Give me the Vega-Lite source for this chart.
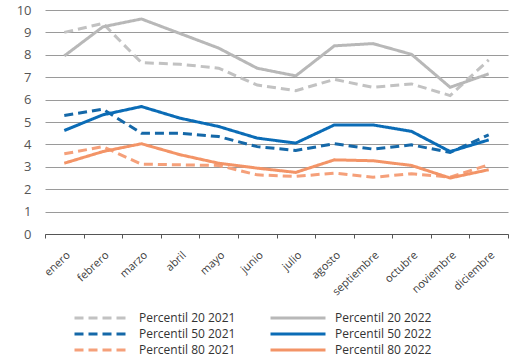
{
  "$schema": "https://vega.github.io/schema/vega-lite/v6.json",
  "width": 463,
  "height": 224,
  "autosize": {"type": "none"},
  "padding": {"left": 45, "top": 10, "right": 5, "bottom": 120},
  "background": "white",
  "config": {
    "font": "Open Sans",
    "view": {"stroke": null}
  },
  "data": {
    "values": [
      {"mes": "enero", "serie": "Percentil 20 2021", "valor": 9.0},
      {"mes": "febrero", "serie": "Percentil 20 2021", "valor": 9.4},
      {"mes": "marzo", "serie": "Percentil 20 2021", "valor": 7.65},
      {"mes": "abril", "serie": "Percentil 20 2021", "valor": 7.58},
      {"mes": "mayo", "serie": "Percentil 20 2021", "valor": 7.4},
      {"mes": "junio", "serie": "Percentil 20 2021", "valor": 6.65},
      {"mes": "julio", "serie": "Percentil 20 2021", "valor": 6.4},
      {"mes": "agosto", "serie": "Percentil 20 2021", "valor": 6.9},
      {"mes": "septiembre", "serie": "Percentil 20 2021", "valor": 6.55},
      {"mes": "octubre", "serie": "Percentil 20 2021", "valor": 6.7},
      {"mes": "noviembre", "serie": "Percentil 20 2021", "valor": 6.18},
      {"mes": "diciembre", "serie": "Percentil 20 2021", "valor": 7.77},

      {"mes": "enero", "serie": "Percentil 20 2022", "valor": 7.95},
      {"mes": "febrero", "serie": "Percentil 20 2022", "valor": 9.25},
      {"mes": "marzo", "serie": "Percentil 20 2022", "valor": 9.6},
      {"mes": "abril", "serie": "Percentil 20 2022", "valor": 8.95},
      {"mes": "mayo", "serie": "Percentil 20 2022", "valor": 8.3},
      {"mes": "junio", "serie": "Percentil 20 2022", "valor": 7.4},
      {"mes": "julio", "serie": "Percentil 20 2022", "valor": 7.06},
      {"mes": "agosto", "serie": "Percentil 20 2022", "valor": 8.4},
      {"mes": "septiembre", "serie": "Percentil 20 2022", "valor": 8.5},
      {"mes": "octubre", "serie": "Percentil 20 2022", "valor": 8.02},
      {"mes": "noviembre", "serie": "Percentil 20 2022", "valor": 6.55},
      {"mes": "diciembre", "serie": "Percentil 20 2022", "valor": 7.15},

      {"mes": "enero", "serie": "Percentil 50 2021", "valor": 5.29},
      {"mes": "febrero", "serie": "Percentil 50 2021", "valor": 5.57},
      {"mes": "marzo", "serie": "Percentil 50 2021", "valor": 4.5},
      {"mes": "abril", "serie": "Percentil 50 2021", "valor": 4.5},
      {"mes": "mayo", "serie": "Percentil 50 2021", "valor": 4.35},
      {"mes": "junio", "serie": "Percentil 50 2021", "valor": 3.9},
      {"mes": "julio", "serie": "Percentil 50 2021", "valor": 3.73},
      {"mes": "agosto", "serie": "Percentil 50 2021", "valor": 4.03},
      {"mes": "septiembre", "serie": "Percentil 50 2021", "valor": 3.79},
      {"mes": "octubre", "serie": "Percentil 50 2021", "valor": 3.98},
      {"mes": "noviembre", "serie": "Percentil 50 2021", "valor": 3.64},
      {"mes": "diciembre", "serie": "Percentil 50 2021", "valor": 4.43},

      {"mes": "enero", "serie": "Percentil 50 2022", "valor": 4.62},
      {"mes": "febrero", "serie": "Percentil 50 2022", "valor": 5.32},
      {"mes": "marzo", "serie": "Percentil 50 2022", "valor": 5.69},
      {"mes": "abril", "serie": "Percentil 50 2022", "valor": 5.17},
      {"mes": "mayo", "serie": "Percentil 50 2022", "valor": 4.8},
      {"mes": "junio", "serie": "Percentil 50 2022", "valor": 4.28},
      {"mes": "julio", "serie": "Percentil 50 2022", "valor": 4.06},
      {"mes": "agosto", "serie": "Percentil 50 2022", "valor": 4.87},
      {"mes": "septiembre", "serie": "Percentil 50 2022", "valor": 4.87},
      {"mes": "octubre", "serie": "Percentil 50 2022", "valor": 4.58},
      {"mes": "noviembre", "serie": "Percentil 50 2022", "valor": 3.68},
      {"mes": "diciembre", "serie": "Percentil 50 2022", "valor": 4.2},

      {"mes": "enero", "serie": "Percentil 80 2021", "valor": 3.58},
      {"mes": "febrero", "serie": "Percentil 80 2021", "valor": 3.9},
      {"mes": "marzo", "serie": "Percentil 80 2021", "valor": 3.12},
      {"mes": "abril", "serie": "Percentil 80 2021", "valor": 3.09},
      {"mes": "mayo", "serie": "Percentil 80 2021", "valor": 3.06},
      {"mes": "junio", "serie": "Percentil 80 2021", "valor": 2.64},
      {"mes": "julio", "serie": "Percentil 80 2021", "valor": 2.57},
      {"mes": "agosto", "serie": "Percentil 80 2021", "valor": 2.72},
      {"mes": "septiembre", "serie": "Percentil 80 2021", "valor": 2.53},
      {"mes": "octubre", "serie": "Percentil 80 2021", "valor": 2.69},
      {"mes": "noviembre", "serie": "Percentil 80 2021", "valor": 2.54},
      {"mes": "diciembre", "serie": "Percentil 80 2021", "valor": 3.09},

      {"mes": "enero", "serie": "Percentil 80 2022", "valor": 3.16},
      {"mes": "febrero", "serie": "Percentil 80 2022", "valor": 3.68},
      {"mes": "marzo", "serie": "Percentil 80 2022", "valor": 4.03},
      {"mes": "abril", "serie": "Percentil 80 2022", "valor": 3.54},
      {"mes": "mayo", "serie": "Percentil 80 2022", "valor": 3.16},
      {"mes": "junio", "serie": "Percentil 80 2022", "valor": 2.94},
      {"mes": "julio", "serie": "Percentil 80 2022", "valor": 2.75},
      {"mes": "agosto", "serie": "Percentil 80 2022", "valor": 3.31},
      {"mes": "septiembre", "serie": "Percentil 80 2022", "valor": 3.27},
      {"mes": "octubre", "serie": "Percentil 80 2022", "valor": 3.06},
      {"mes": "noviembre", "serie": "Percentil 80 2022", "valor": 2.5},
      {"mes": "diciembre", "serie": "Percentil 80 2022", "valor": 2.87}
    ]
  },
  "mark": {"type": "line", "strokeWidth": 3, "strokeCap": "butt", "strokeJoin": "miter"},
  "encoding": {
    "x": {
      "field": "mes",
      "type": "nominal",
      "sort": ["enero", "febrero", "marzo", "abril", "mayo", "junio", "julio", "agosto", "septiembre", "octubre", "noviembre", "diciembre"],
      "scale": {"paddingInner": 0, "paddingOuter": 0},
      "axis": {
        "title": null,
        "labelAngle": -43,
        "labelFontSize": 11,
        "labelColor": "#3c3c3c",
        "labelPadding": 11,
        "domainColor": "#555555",
        "domainWidth": 1,
        "ticks": true,
        "tickBand": "extent",
        "tickSize": 4,
        "tickColor": "#555555",
        "grid": false
      }
    },
    "y": {
      "field": "valor",
      "type": "quantitative",
      "scale": {"domain": [0, 10], "nice": false, "zero": true},
      "axis": {
        "title": null,
        "values": [0, 1, 2, 3, 4, 5, 6, 7, 8, 9, 10],
        "domain": false,
        "ticks": false,
        "tickSize": 0,
        "labelPadding": 14,
        "labelFontSize": 13,
        "labelColor": "#555555",
        "grid": true,
        "gridColor": "#9a9a9a",
        "gridWidth": 1
      }
    },
    "color": {
      "field": "serie",
      "type": "nominal",
      "scale": {
        "domain": ["Percentil 20 2021", "Percentil 20 2022", "Percentil 50 2021", "Percentil 50 2022", "Percentil 80 2021", "Percentil 80 2022"],
        "range": ["#c2c2c2", "#b8b8b8", "#1568a8", "#0b6cb6", "#f5a07a", "#f39467"]
      },
      "legend": {
        "title": null,
        "orient": "none",
        "legendX": 28,
        "legendY": 301,
        "direction": "horizontal",
        "columns": 2,
        "columnPadding": 28,
        "rowPadding": 3,
        "symbolType": "M-1,0H9",
        "symbolSize": 121,
        "symbolStrokeWidth": 3,
        "labelOffset": 52,
        "labelFontSize": 12,
        "labelColor": "#333333",
        "labelLimit": 200
      }
    },
    "strokeDash": {
      "field": "serie",
      "type": "nominal",
      "scale": {
        "domain": ["Percentil 20 2021", "Percentil 20 2022", "Percentil 50 2021", "Percentil 50 2022", "Percentil 80 2021", "Percentil 80 2022"],
        "range": [[9, 5], [1, 0], [9, 5], [1, 0], [9, 5], [1, 0]]
      },
      "legend": {
        "title": null,
        "orient": "none",
        "legendX": 28,
        "legendY": 301,
        "direction": "horizontal",
        "columns": 2,
        "columnPadding": 28,
        "rowPadding": 3,
        "symbolType": "M-1,0H9",
        "symbolSize": 121,
        "symbolStrokeWidth": 3,
        "labelOffset": 52,
        "labelFontSize": 12,
        "labelColor": "#333333",
        "labelLimit": 200
      }
    }
  }
}
